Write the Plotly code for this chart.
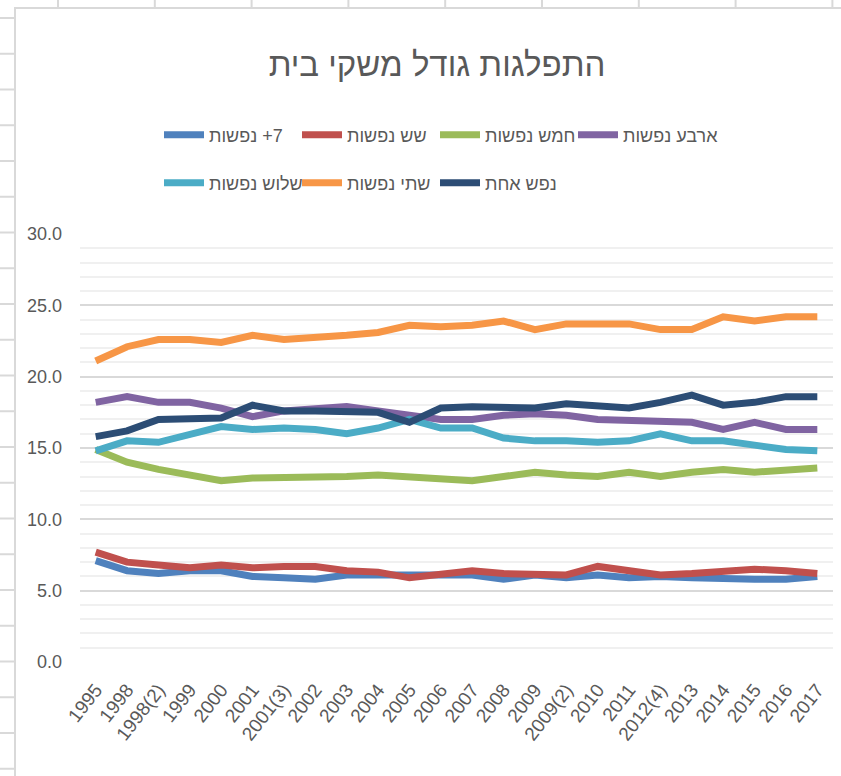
import plotly.graph_objects as go

years = ["1995", "1998", "1998(2)", "1999", "2000", "2001", "2001(3)", "2002",
         "2003", "2004", "2005", "2006", "2007", "2008", "2009", "2009(2)",
         "2010", "2011", "2012(4)", "2013", "2014", "2015", "2016", "2017"]

seven_plus = [7.1, 6.4, 6.2, 6.4, 6.4, 6.0, 5.9, 5.8, 6.1, 6.1, 6.0, 6.0,
              6.1, 5.8, 6.1, 5.9, 6.1, 5.9, 6.0, 5.9, 5.8, 5.8, 5.8, 6.0]
six = [7.7, 7.0, 6.8, 6.6, 6.8, 6.6, 6.7, 6.7, 6.4, 6.3, 5.9, 6.2,
       6.4, 6.2, 6.1, 6.1, 6.7, 6.4, 6.1, 6.2, 6.4, 6.5, 6.4, 6.2]
five = [14.9, 14.0, 13.5, 13.1, 12.7, 12.9, 12.9, 13.0, 13.0, 13.1, 13.0, 12.9,
        12.7, 13.0, 13.3, 13.1, 13.0, 13.3, 13.0, 13.3, 13.5, 13.3, 13.5, 13.6]
four = [18.2, 18.6, 18.2, 18.2, 17.8, 17.2, 17.6, 17.7, 17.9, 17.6, 17.3, 17.0,
        17.0, 17.3, 17.4, 17.3, 17.0, 16.9, 16.9, 16.8, 16.3, 16.8, 16.3, 16.3]
three = [14.8, 15.5, 15.4, 15.9, 16.5, 16.3, 16.4, 16.3, 16.0, 16.4, 17.0, 16.4,
         16.4, 15.7, 15.5, 15.5, 15.4, 15.5, 16.0, 15.5, 15.5, 15.2, 14.9, 14.8]
two = [21.1, 22.1, 22.6, 22.6, 22.4, 22.9, 22.6, 22.7, 22.9, 23.1, 23.6, 23.5,
       23.6, 23.9, 23.3, 23.7, 23.7, 23.7, 23.3, 23.3, 24.2, 23.9, 24.2, 24.2]
one = [15.8, 16.2, 17.0, 17.0, 17.1, 18.0, 17.6, 17.6, 17.5, 17.5, 16.8, 17.8,
       17.9, 17.8, 17.8, 18.1, 17.9, 17.8, 18.2, 18.7, 18.0, 18.2, 18.6, 18.6]

series = [
    ("\u200f7+ נפשות", seven_plus, "#4F81BD", "legend"),
    ("שש נפשות", six, "#C0504D", "legend"),
    ("חמש נפשות", five, "#9BBB59", "legend"),
    ("ארבע נפשות", four, "#8064A2", "legend"),
    ("שלוש נפשות", three, "#4BACC6", "legend2"),
    ("שתי נפשות", two, "#F79646", "legend2"),
    ("נפש אחת", one, "#2C4D75", "legend2"),
]

W, H = 841, 776
ML, MR, MT, MB = 80, 8, 234, 114
PW, PH = W - ML - MR, H - MT - MB


def px_x(v):
    return (v - ML) / PW


def px_y(v):
    return (H - MB - v) / PH


FONT = "Liberation Sans, Arial, DejaVu Sans"
GREY = "#595959"

fig = go.Figure()
for name, vals, color, leg in series:
    fig.add_trace(go.Scatter(x=years, y=vals, mode="lines", name=name,
                             line=dict(color=color, width=7), legend=leg))

# empty entry so the last real legend label is not clipped
for leg in ["legend", "legend2"]:
    fig.add_trace(go.Scatter(x=[None], y=[None], mode="lines", name=" ",
                             line=dict(color="rgba(0,0,0,0)", width=0),
                             legend=leg, hoverinfo="skip"))

# spreadsheet frame behind the chart
shapes = [dict(type="rect", xref="paper", yref="paper",
               x0=px_x(15), x1=px_x(860), y0=px_y(8), y1=px_y(790),
               line=dict(color="#d9d9d9", width=2), layer="below")]
for k in range(9):
    xv = 58 + 96.8 * k
    shapes.append(dict(type="line", xref="paper", yref="paper",
                       x0=px_x(xv), x1=px_x(xv), y0=px_y(0), y1=px_y(8),
                       line=dict(color="#d9d9d9", width=2)))
for k in range(22):
    yv = 18 + 35.75 * k
    shapes.append(dict(type="line", xref="paper", yref="paper",
                       x0=px_x(0), x1=px_x(15), y0=px_y(yv), y1=px_y(yv),
                       line=dict(color="#d9d9d9", width=2)))

legend_style = dict(orientation="h", xanchor="left", yanchor="middle",
                    entrywidth=83, bgcolor="rgba(0,0,0,0)",
                    font=dict(size=18, color=GREY), itemwidth=40)

fig.update_layout(
    width=W, height=H,
    margin=dict(l=ML, r=MR, t=MT, b=MB, autoexpand=False),
    paper_bgcolor="white", plot_bgcolor="white",
    font=dict(family=FONT, color=GREY, size=17),
    title=dict(text="התפלגות גודל משקי בית", x=437 / W, xref="container",
               xanchor="center", y=1 - 64 / H, yref="container", yanchor="middle",
               font=dict(size=33, color=GREY, family=FONT)),
    shapes=shapes,
    showlegend=True,
    legend=dict(x=px_x(159), y=px_y(135), **legend_style),
    legend2=dict(x=px_x(159), y=px_y(183), **legend_style),
)

fig.update_xaxes(type="category", range=[-0.5, len(years) - 0.5],
                 tickangle=-52, tickfont=dict(size=19, color=GREY),
                 ticklabelstandoff=12,
                 showgrid=False, showline=False, ticks="", automargin=False)
fig.update_yaxes(range=[0, 30], dtick=5, tickformat=".1f",
                 gridcolor="#d9d9d9", gridwidth=1.5, zeroline=False,
                 tickfont=dict(size=18, color=GREY), ticklabelstandoff=17,
                 automargin=False,
                 minor=dict(dtick=1, showgrid=True, gridcolor="#f0f0f0", gridwidth=1.5))

# page margin off so the figure fills the window exactly
fig.write_html("out.html", config={"displayModeBar": False},
               post_script="document.body.style.margin='0';")
